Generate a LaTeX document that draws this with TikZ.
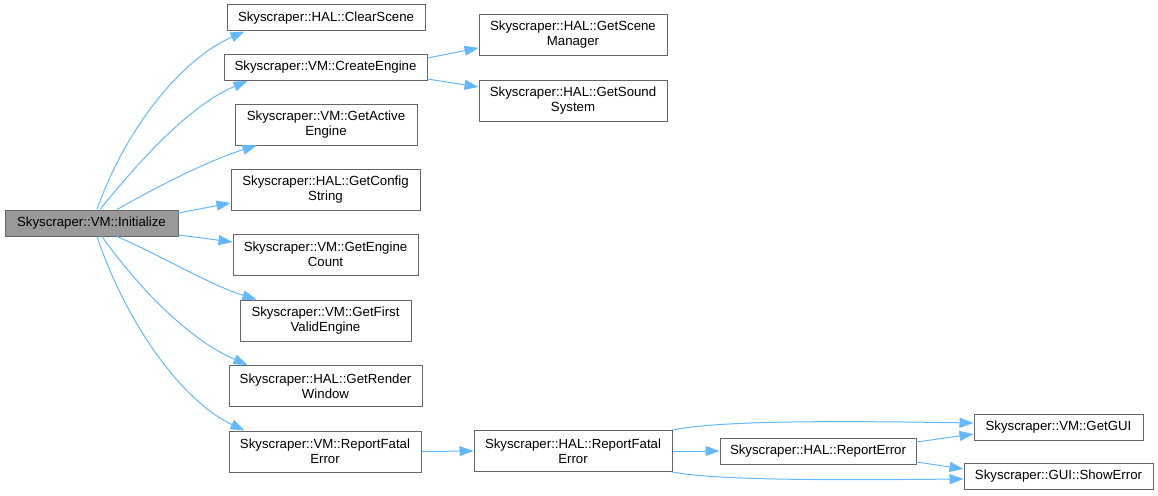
\documentclass[tikz,border=0pt]{standalone}
\usepackage{fontspec}
\setmainfont{Liberation Sans}
\usetikzlibrary{arrows.meta}
\definecolor{edgec}{HTML}{63B8FF}
\definecolor{bordc}{HTML}{666666}
\definecolor{initc}{HTML}{999999}
\tikzset{
  fn/.style={draw=bordc, line width=1pt, fill=white, align=center, inner sep=0pt,
    font=\fontsize{13.25}{15}\selectfont},
  call/.style={draw=edgec, line width=1pt, -{Triangle[length=14pt,width=10pt]}},
}
\begin{document}
\begin{tikzpicture}[x=1pt,y=-1pt]
\useasboundingbox (0,0) rectangle (1158,495);
\node[fn, fill=initc, minimum width=173, minimum height=26] (init) at (91.5,223) {Skyscraper::VM::Initialize};
\node[fn, minimum width=198, minimum height=26] (clear) at (326,18) {Skyscraper::HAL::ClearScene};
\node[fn, minimum width=203, minimum height=26] (create) at (325.5,67.5) {Skyscraper::VM::CreateEngine};
\node[fn, minimum width=182, minimum height=41] (active) at (326,124.5) {Skyscraper::VM::GetActive\\Engine};
\node[fn, minimum width=189, minimum height=41] (config) at (325.5,189.5) {Skyscraper::HAL::GetConfig\\String};
\node[fn, minimum width=185, minimum height=41] (count) at (325.5,254.5) {Skyscraper::VM::GetEngine\\Count};
\node[fn, minimum width=171, minimum height=41] (first) at (325.5,320.5) {Skyscraper::VM::GetFirst\\ValidEngine};
\node[fn, minimum width=193, minimum height=41] (render) at (325.5,386) {Skyscraper::HAL::GetRender\\Window};
\node[fn, minimum width=192, minimum height=41] (vmrf) at (325,451.5) {Skyscraper::VM::ReportFatal\\Error};
\node[fn, minimum width=188, minimum height=41] (scene) at (573,35) {Skyscraper::HAL::GetScene\\Manager};
\node[fn, minimum width=188, minimum height=41] (sound) at (573,100.5) {Skyscraper::HAL::GetSound\\System};
\node[fn, minimum width=198, minimum height=41] (halrf) at (573,451) {Skyscraper::HAL::ReportFatal\\Error};
\node[fn, minimum width=196, minimum height=26] (re) at (818,451) {Skyscraper::HAL::ReportError};
\node[fn, minimum width=169, minimum height=26] (gui) at (1058.5,427) {Skyscraper::VM::GetGUI};
\node[fn, minimum width=189, minimum height=26] (show) at (1058.5,476.5) {Skyscraper::GUI::ShowError};

\draw[call] ([xshift=5.5]init.north) .. controls (125,130) and (180,60) .. ([xshift=18]clear.south west);
\draw[call] ([xshift=8.5]init.north) .. controls (140,160) and (190,105) .. ([xshift=24]create.south west);
\draw[call] ([xshift=25.5]init.north) .. controls (160,185) and (210,160) .. ([xshift=22]active.south west);
\draw[call] ([yshift=10]init.east) -- ([yshift=-13.5]config.west);
\draw[call] ([yshift=-12]init.east) -- ([yshift=12.5]count.west);
\draw[call] ([xshift=25.5]init.south) .. controls (160,255) and (210,285) .. ([xshift=17]first.north west);
\draw[call] ([xshift=10.5]init.south) .. controls (140,290) and (190,340) .. ([xshift=19]render.north west);
\draw[call] ([xshift=5.5]init.south) .. controls (125,320) and (180,400) .. ([xshift=16]vmrf.north west);
\draw[call] ([yshift=9.5]create.east) -- ([yshift=-13]scene.west);
\draw[call] ([yshift=-11.5]create.east) -- ([yshift=13.5]sound.west);
\draw[call] (vmrf.east) -- (halrf.west);
\draw[call] (halrf.east) -- (re.west);
\draw[call] (halrf.north east) .. controls (720,420) and (850,421) .. ([yshift=4]gui.west);
\draw[call] (halrf.south east) .. controls (720,481) and (850,480) .. ([yshift=-2.5]show.west);
\draw[call] ([yshift=9]re.east) -- ([yshift=-7]gui.west);
\draw[call] ([yshift=-11]re.east) -- ([yshift=7.5]show.west);
\end{tikzpicture}
\end{document}
